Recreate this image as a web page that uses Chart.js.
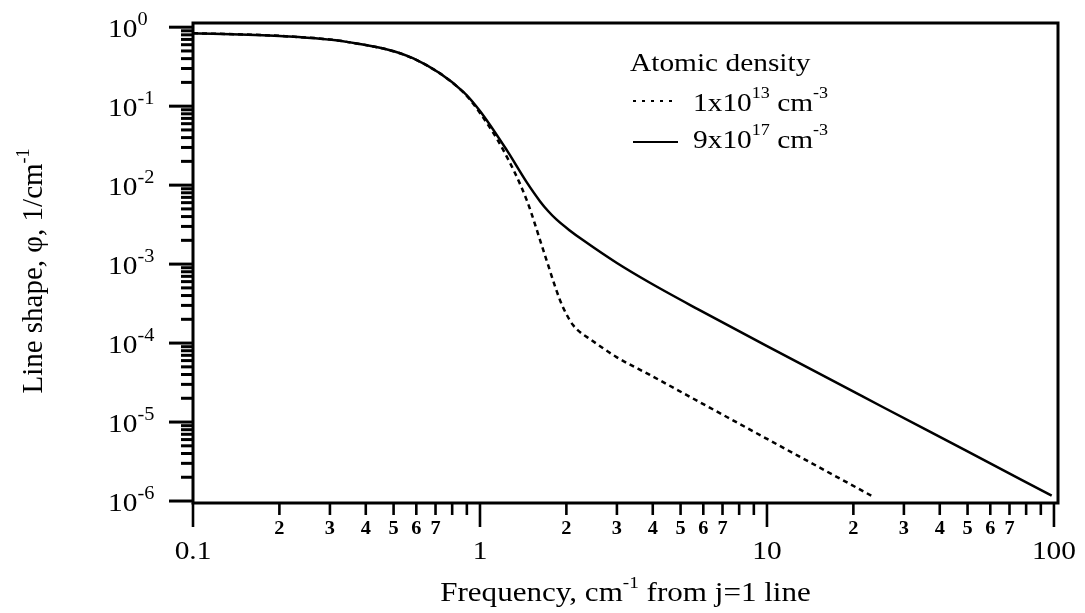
<!DOCTYPE html>
<html><head><meta charset="utf-8">
<script src="https://cdn.jsdelivr.net/npm/chart.js@4/dist/chart.umd.min.js"></script>
<style>html,body{margin:0;padding:0;background:#fff}#wrap{width:1085px;height:613px;position:relative}</style>
</head><body><div id="wrap"><canvas id="c" width="1085" height="613"></canvas></div>
<script>
// ---- data ----
const freqHigh = [0.1, 0.2, 0.343, 0.586, 0.875, 1.0, 1.24, 1.454, 1.62, 1.73, 1.85, 2.06, 2.29, 2.99, 3.91, 5.76, 9.97, 25.4, 49.6, 98.2];
const phiHigh  = [0.84, 0.776, 0.652, 0.402, 0.152, 0.0868, 0.0277, 0.0109, 0.00622, 0.00467, 0.00365, 0.00265, 0.0020, 0.00104, 5.8e-4, 2.67e-4, 9.2e-5, 1.54e-5, 4.31e-6, 1.17e-6];
const freqLow  = [0.1, 0.2, 0.343, 0.586, 0.875, 1.0, 1.206, 1.455, 1.662, 1.90, 2.0, 2.11, 2.23, 2.42, 2.99, 3.91, 5.84, 9.97, 23.5];
const phiLow   = [0.84, 0.776, 0.652, 0.40, 0.15, 0.082, 0.0277, 0.00646, 0.0015, 3.5e-4, 2.33e-4, 1.69e-4, 1.38e-4, 1.12e-4, 6.65e-5, 3.95e-5, 1.78e-5, 6.16e-6, 1.13e-6];
const seriesNames = [["1x10", "13", " cm", "-3"], ["9x10", "17", " cm", "-3"]];
const legendTitle = "Atomic density";
const xMajorValues = [0.1, 1, 10, 100];
const xMajorLabels = ["0.1", "1", "10", "100"];
const xMinorLabels = ["2", "3", "4", "5", "6", "7"];
const yExponents = [0, -1, -2, -3, -4, -5, -6];
const xTitle = ["Frequency, cm", "-1", " from j=1 line"];
const yTitle = ["Line shape, \u03c6, 1/cm", "-1"];

const FONT = '"Liberation Serif", "DejaVu Serif", serif';
const SX = 1.13;

function drawRuns(ctx, runs, x, y, align, rotated) {
  // runs: [text, size, dy, bold]
  let total = 0;
  const widths = runs.map(r => {
    ctx.font = (r[3] ? 'bold ' : '') + r[1] + 'px ' + FONT;
    const w = ctx.measureText(r[0]).width * (rotated ? 1 : SX);
    total += w; return w;
  });
  let cx = align === 'center' ? -total / 2 : (align === 'right' ? -total : 0);
  ctx.save();
  ctx.translate(x, y);
  if (rotated) ctx.rotate(-Math.PI / 2);
  ctx.fillStyle = '#000';
  ctx.textBaseline = 'alphabetic';
  ctx.textAlign = 'left';
  runs.forEach((r, i) => {
    ctx.save();
    ctx.font = (r[3] ? 'bold ' : '') + r[1] + 'px ' + FONT;
    ctx.translate(cx, r[2]);
    if (!rotated) ctx.scale(SX, 1);
    ctx.fillText(r[0], 0, 0);
    ctx.restore();
    cx += widths[i];
  });
  ctx.restore();
}

function line(ctx, x1, y1, x2, y2) { ctx.beginPath(); ctx.moveTo(x1, y1); ctx.lineTo(x2, y2); ctx.stroke(); }

const decor = {
  id: 'decor',
  afterDraw(chart) {
    const ctx = chart.ctx, xS = chart.scales.x, yS = chart.scales.y;
    const { left, right, top, bottom } = chart.chartArea;
    ctx.save();
    ctx.strokeStyle = '#000';
    ctx.lineCap = 'butt';
    // frame
    ctx.lineWidth = 3;
    ctx.strokeRect(left, top, right - left, bottom - top);
    // y ticks
    yExponents.forEach(e => {
      const p = yS.getPixelForValue(Math.pow(10, e));
      ctx.lineWidth = 3; line(ctx, left - 24, p, left, p);
      drawRuns(ctx, [["10", 26, 0], [String(e), 18, -12]], 108, p + 10, 'left');
      if (e < 0) {
        for (let m = 2; m <= 9; m++) {
          const q = yS.getPixelForValue(m * Math.pow(10, e));
          ctx.lineWidth = 3; line(ctx, left - 12, q, left, q);
        }
      }
    });
    // x ticks
    xMajorValues.forEach((v, i) => {
      const p = xS.getPixelForValue(v);
      ctx.lineWidth = 2.6; line(ctx, p, bottom, p, bottom + 24);
      drawRuns(ctx, [[xMajorLabels[i], 26, 0]], p, 559, 'center');
      if (i < xMajorValues.length - 1) {
        for (let m = 2; m <= 9; m++) {
          const q = xS.getPixelForValue(m * v);
          ctx.lineWidth = 2.6; line(ctx, q, bottom, q, bottom + 12);
          if (m - 2 < xMinorLabels.length) drawRuns(ctx, [[xMinorLabels[m - 2], 18, 0, true]], q, 534, 'center');
        }
      }
    });
    // axis titles
    drawRuns(ctx, [[xTitle[0], 27.5, 0], [xTitle[1], 17, -13], [xTitle[2], 27.5, 0]], (left + right) / 2, 601, 'center');
    drawRuns(ctx, [[yTitle[0], 29, 0], [yTitle[1], 18, -13]], 42, 271, 'center', true);
    // legend
    drawRuns(ctx, [[legendTitle, 26, 0]], 630, 71, 'left');
    ctx.lineWidth = 2.2;
    ctx.setLineDash([3, 6]); line(ctx, 633, 101, 678, 101);
    ctx.setLineDash([]); line(ctx, 633, 142, 678, 142);
    seriesNames.forEach((s, i) => {
      const by = i === 0 ? 111 : 148;
      drawRuns(ctx, [[s[0], 26, 0], [s[1], 16, -13], [s[2], 26, 0], [s[3], 16, -13]], 693, by, 'left');
    });
    ctx.restore();
  }
};

new Chart(document.getElementById('c'), {
  type: 'line',
  data: {
    datasets: [
      { label: seriesNames[0].join(''), data: freqLow.map((f, i) => ({ x: f, y: phiLow[i] })),
        borderColor: '#000', borderWidth: 2.5, borderDash: [5, 4], pointRadius: 0, fill: false, cubicInterpolationMode: 'monotone', borderJoinStyle: 'round' },
      { label: seriesNames[1].join(''), data: freqHigh.map((f, i) => ({ x: f, y: phiHigh[i] })),
        borderColor: '#000', borderWidth: 2.5, pointRadius: 0, fill: false, cubicInterpolationMode: 'monotone', borderJoinStyle: 'round' }
    ]
  },
  options: {
    responsive: false, animation: false, devicePixelRatio: 1,
    layout: { padding: { top: 23, right: 27, left: 0, bottom: 0 } },
    plugins: { legend: { display: false }, tooltip: { enabled: false }, title: { display: false } },
    scales: {
      x: { type: 'logarithmic', min: 0.1, max: 103.3, ticks: { display: false }, grid: { display: false }, border: { display: false },
           afterFit(s) { s.height = 110; } },
      y: { type: 'logarithmic', min: 0.944e-6, max: 1.13, ticks: { display: false }, grid: { display: false }, border: { display: false },
           afterFit(s) { s.width = 193; } }
    }
  },
  plugins: [decor]
});
</script>
</body></html>
